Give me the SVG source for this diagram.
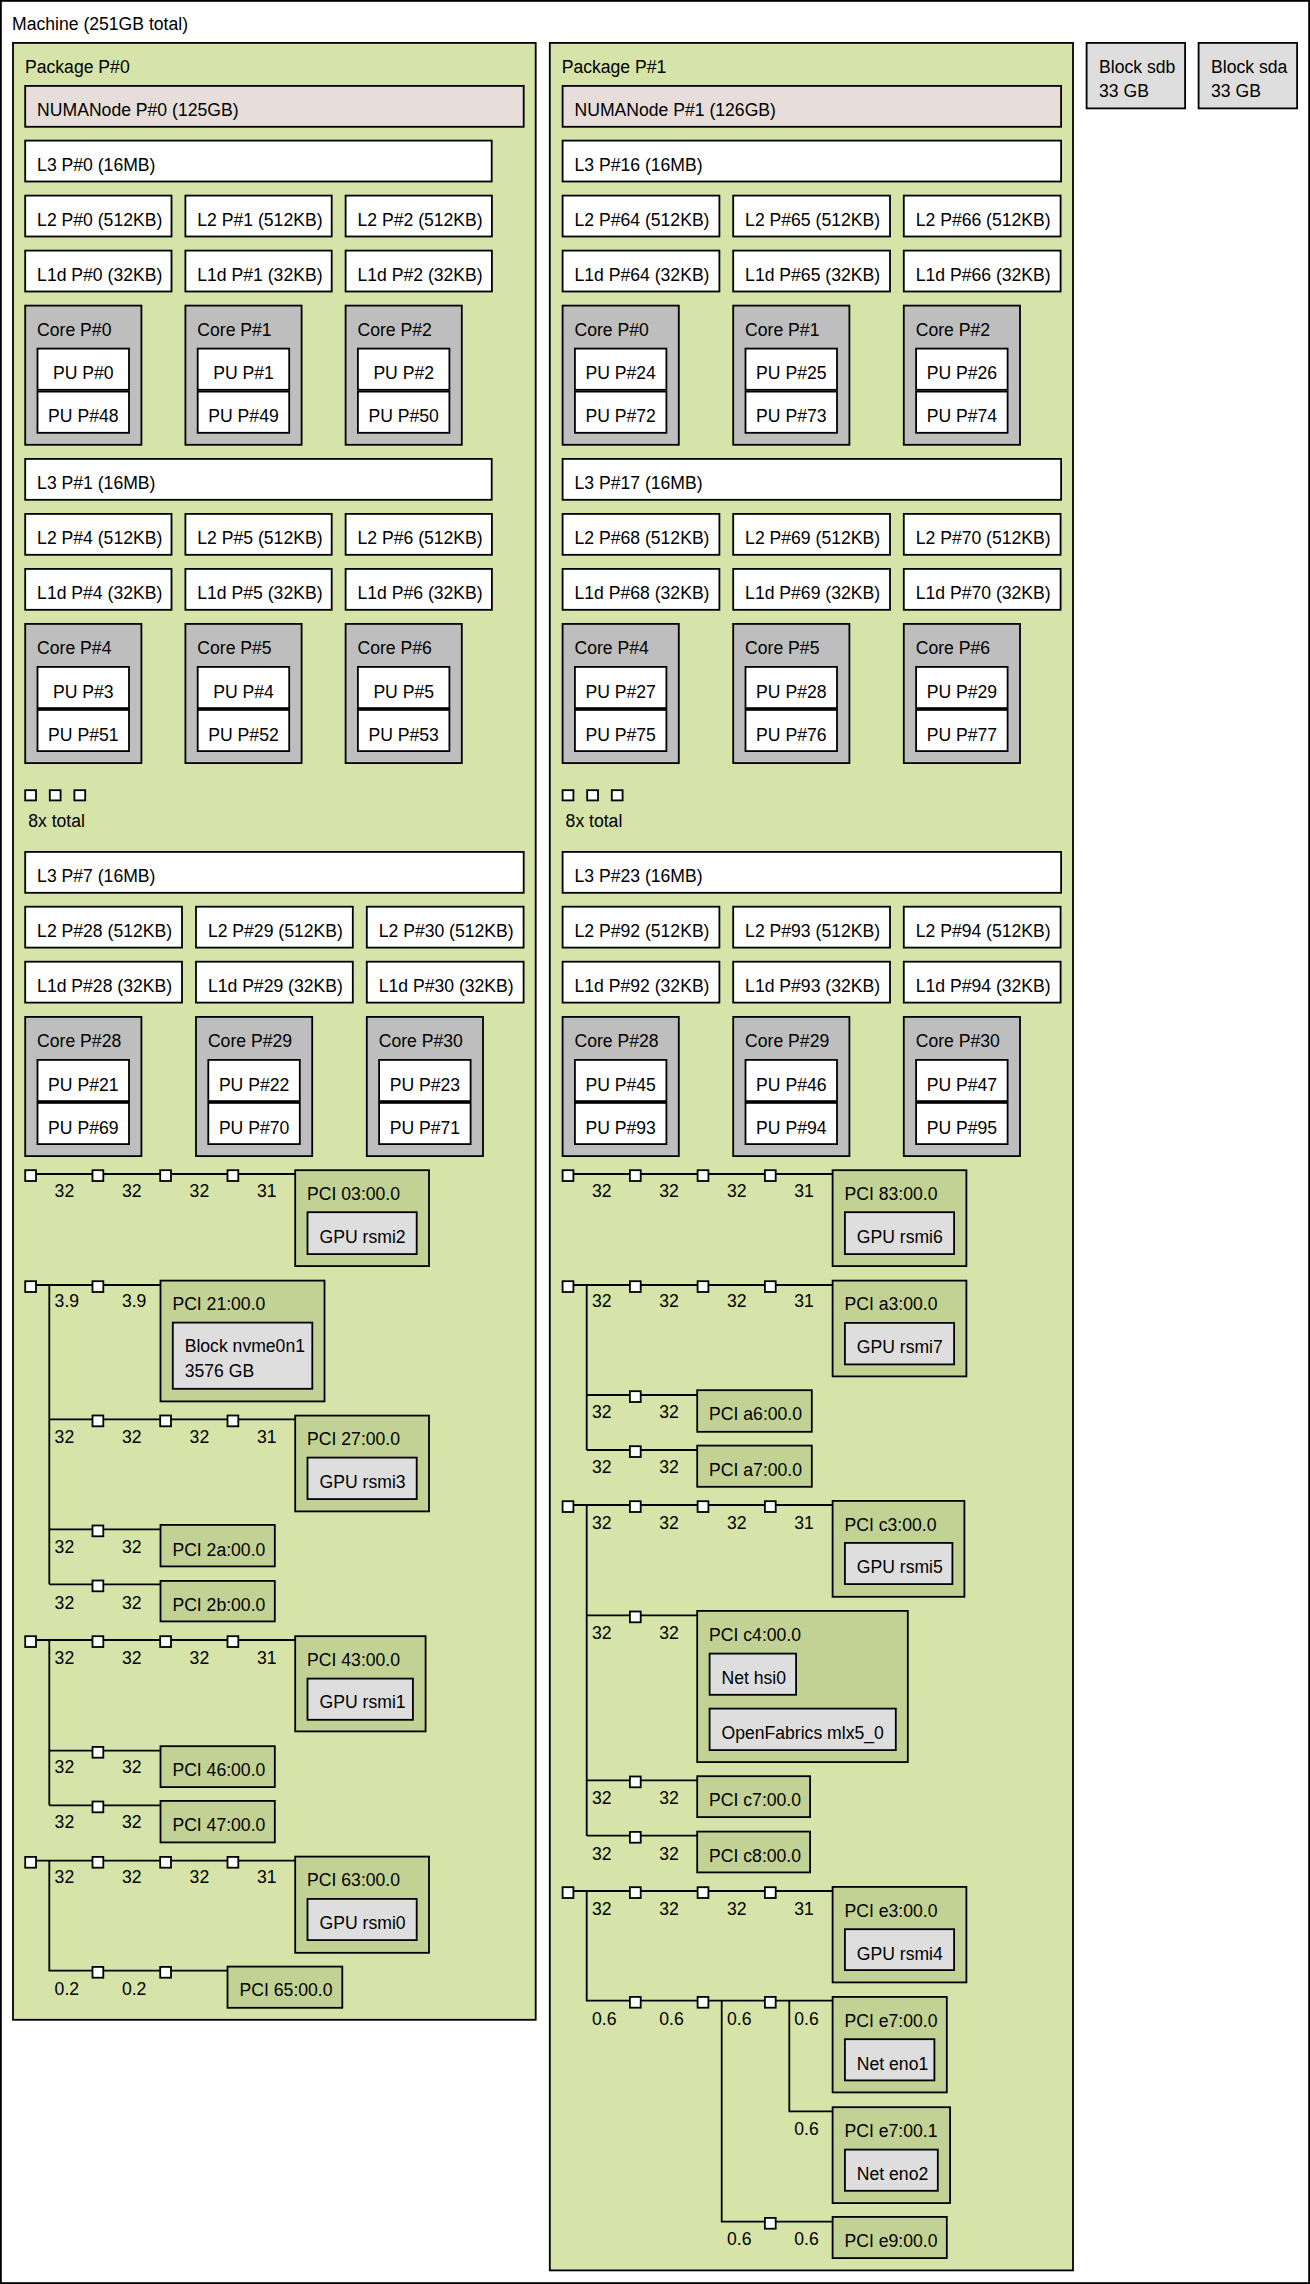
<svg xmlns="http://www.w3.org/2000/svg" xmlns:xlink="http://www.w3.org/1999/xlink" width="1310" height="2284" viewBox="0 0 1310 2284">
<style>
rect{stroke:#000;stroke-width:1.8}
.mach{fill:#fff}.pkg{fill:#D6E4A9}.numa{fill:#E7DEDC}.cache{fill:#fff}.core{fill:#BEBEBE}.pu{fill:#fff}
.pci{fill:#C2D295}.os{fill:#DEDEDE}.br{fill:#fff}
text{font-family:"Liberation Sans",Arial,Helvetica,sans-serif;font-size:17.6px;fill:#000}
.c{text-anchor:middle}
.lk{stroke:#000;stroke-width:1.8;fill:none}
</style>
<defs><rect id="sq" width="10.8" height="10.8" class="br"/></defs>

<g id="machine"><rect class="mach" x="0.9" y="0.9" width="1308.2" height="2282.2"/><text x="12" y="30">Machine (251GB total)</text></g>

<g id="package0"><rect class="pkg" x="13" y="42.9" width="522.7" height="1976.9"/><text x="25" y="73">Package P#0</text></g>
<g id="package1"><rect class="pkg" x="549.8" y="42.9" width="523.2" height="2227.5"/><text x="561.7" y="73">Package P#1</text></g>
<g id="block-sdb"><rect class="os" x="1086.6" y="42.9" width="98.5" height="65.5"/><text x="1099" y="72.7">Block sdb</text><text x="1099" y="97.3">33 GB</text></g>
<g id="block-sda"><rect class="os" x="1198.6" y="42.9" width="98.5" height="65.5"/><text x="1211" y="72.7">Block sda</text><text x="1211" y="97.3">33 GB</text></g>

<g id="numa0"><rect class="numa" x="25.2" y="85.9" width="498.5" height="40.9"/><text x="37.1" y="116">NUMANode P#0 (125GB)</text></g>
<g id="numa1"><rect class="numa" x="562.6" y="85.9" width="498.5" height="40.9"/><text x="574.5" y="116">NUMANode P#1 (126GB)</text></g>

<!-- Package 0 group A -->
<g id="l3-0"><rect class="cache" x="25.2" y="140.6" width="466.5" height="40.9"/><text x="37.1" y="170.9">L3 P#0 (16MB)</text></g>
<g id="l2-0"><rect class="cache" x="25.2" y="195.6" width="146.3" height="40.9"/><text x="37.1" y="225.9">L2 P#0 (512KB)</text></g>
<g id="l2-1"><rect class="cache" x="185.4" y="195.6" width="146.3" height="40.9"/><text x="197.3" y="225.9">L2 P#1 (512KB)</text></g>
<g id="l2-2"><rect class="cache" x="345.6" y="195.6" width="146.3" height="40.9"/><text x="357.5" y="225.9">L2 P#2 (512KB)</text></g>
<g id="l1-0"><rect class="cache" x="25.2" y="250.6" width="146.3" height="40.9"/><text x="37.1" y="280.9">L1d P#0 (32KB)</text></g>
<g id="l1-1"><rect class="cache" x="185.4" y="250.6" width="146.3" height="40.9"/><text x="197.3" y="280.9">L1d P#1 (32KB)</text></g>
<g id="l1-2"><rect class="cache" x="345.6" y="250.6" width="146.3" height="40.9"/><text x="357.5" y="280.9">L1d P#2 (32KB)</text></g>
<g id="core-p0-0"><rect class="core" x="25.2" y="305.6" width="116.2" height="139.2"/><text x="37.1" y="336">Core P#0</text>
<rect class="pu" x="37.5" y="348.6" width="91.5" height="41.2"/><text class="c" x="83.3" y="379.3">PU P#0</text>
<rect class="pu" x="37.5" y="391.6" width="91.5" height="41.2"/><text class="c" x="83.3" y="422.3">PU P#48</text></g>
<g id="core-p0-1"><rect class="core" x="185.4" y="305.6" width="116.2" height="139.2"/><text x="197.3" y="336">Core P#1</text>
<rect class="pu" x="197.7" y="348.6" width="91.5" height="41.2"/><text class="c" x="243.5" y="379.3">PU P#1</text>
<rect class="pu" x="197.7" y="391.6" width="91.5" height="41.2"/><text class="c" x="243.5" y="422.3">PU P#49</text></g>
<g id="core-p0-2"><rect class="core" x="345.6" y="305.6" width="116.2" height="139.2"/><text x="357.5" y="336">Core P#2</text>
<rect class="pu" x="357.9" y="348.6" width="91.5" height="41.2"/><text class="c" x="403.7" y="379.3">PU P#2</text>
<rect class="pu" x="357.9" y="391.6" width="91.5" height="41.2"/><text class="c" x="403.7" y="422.3">PU P#50</text></g>

<!-- Package 0 group B -->
<g id="l3-1"><rect class="cache" x="25.2" y="458.9" width="466.5" height="40.9"/><text x="37.1" y="489.2">L3 P#1 (16MB)</text></g>
<g id="l2-4"><rect class="cache" x="25.2" y="513.9" width="146.3" height="40.9"/><text x="37.1" y="544.2">L2 P#4 (512KB)</text></g>
<g id="l2-5"><rect class="cache" x="185.4" y="513.9" width="146.3" height="40.9"/><text x="197.3" y="544.2">L2 P#5 (512KB)</text></g>
<g id="l2-6"><rect class="cache" x="345.6" y="513.9" width="146.3" height="40.9"/><text x="357.5" y="544.2">L2 P#6 (512KB)</text></g>
<g id="l1-4"><rect class="cache" x="25.2" y="568.9" width="146.3" height="40.9"/><text x="37.1" y="599.2">L1d P#4 (32KB)</text></g>
<g id="l1-5"><rect class="cache" x="185.4" y="568.9" width="146.3" height="40.9"/><text x="197.3" y="599.2">L1d P#5 (32KB)</text></g>
<g id="l1-6"><rect class="cache" x="345.6" y="568.9" width="146.3" height="40.9"/><text x="357.5" y="599.2">L1d P#6 (32KB)</text></g>
<g id="core-p0-4"><rect class="core" x="25.2" y="623.9" width="116.2" height="139.2"/><text x="37.1" y="654.3">Core P#4</text>
<rect class="pu" x="37.5" y="666.9" width="91.5" height="41.2"/><text class="c" x="83.3" y="697.6">PU P#3</text>
<rect class="pu" x="37.5" y="709.9" width="91.5" height="41.2"/><text class="c" x="83.3" y="740.6">PU P#51</text></g>
<g id="core-p0-5"><rect class="core" x="185.4" y="623.9" width="116.2" height="139.2"/><text x="197.3" y="654.3">Core P#5</text>
<rect class="pu" x="197.7" y="666.9" width="91.5" height="41.2"/><text class="c" x="243.5" y="697.6">PU P#4</text>
<rect class="pu" x="197.7" y="709.9" width="91.5" height="41.2"/><text class="c" x="243.5" y="740.6">PU P#52</text></g>
<g id="core-p0-6"><rect class="core" x="345.6" y="623.9" width="116.2" height="139.2"/><text x="357.5" y="654.3">Core P#6</text>
<rect class="pu" x="357.9" y="666.9" width="91.5" height="41.2"/><text class="c" x="403.7" y="697.6">PU P#5</text>
<rect class="pu" x="357.9" y="709.9" width="91.5" height="41.2"/><text class="c" x="403.7" y="740.6">PU P#53</text></g>

<g id="ellipsis-p0"><rect class="br" x="25.2" y="790.2" width="10.8" height="10.2"/><rect class="br" x="49.8" y="790.2" width="10.8" height="10.2"/><rect class="br" x="74.4" y="790.2" width="10.8" height="10.2"/><text x="28.2" y="827.3">8x total</text></g>

<!-- Package 0 group C -->
<g id="l3-7"><rect class="cache" x="25.2" y="851.9" width="498.5" height="40.9"/><text x="37.1" y="882.2">L3 P#7 (16MB)</text></g>
<g id="l2-28"><rect class="cache" x="25.2" y="906.7" width="156.8" height="40.9"/><text x="37.1" y="937">L2 P#28 (512KB)</text></g>
<g id="l2-29"><rect class="cache" x="196" y="906.7" width="156.8" height="40.9"/><text x="207.9" y="937">L2 P#29 (512KB)</text></g>
<g id="l2-30"><rect class="cache" x="366.8" y="906.7" width="156.8" height="40.9"/><text x="378.7" y="937">L2 P#30 (512KB)</text></g>
<g id="l1-28"><rect class="cache" x="25.2" y="961.7" width="156.8" height="40.9"/><text x="37.1" y="992">L1d P#28 (32KB)</text></g>
<g id="l1-29"><rect class="cache" x="196" y="961.7" width="156.8" height="40.9"/><text x="207.9" y="992">L1d P#29 (32KB)</text></g>
<g id="l1-30"><rect class="cache" x="366.8" y="961.7" width="156.8" height="40.9"/><text x="378.7" y="992">L1d P#30 (32KB)</text></g>
<g id="core-p0-28"><rect class="core" x="25.2" y="1016.9" width="116.2" height="139.2"/><text x="37.1" y="1047.3">Core P#28</text>
<rect class="pu" x="37.5" y="1059.9" width="91.5" height="41.2"/><text class="c" x="83.3" y="1090.6">PU P#21</text>
<rect class="pu" x="37.5" y="1102.9" width="91.5" height="41.2"/><text class="c" x="83.3" y="1133.6">PU P#69</text></g>
<g id="core-p0-29"><rect class="core" x="196" y="1016.9" width="116.2" height="139.2"/><text x="207.9" y="1047.3">Core P#29</text>
<rect class="pu" x="208.3" y="1059.9" width="91.5" height="41.2"/><text class="c" x="254.1" y="1090.6">PU P#22</text>
<rect class="pu" x="208.3" y="1102.9" width="91.5" height="41.2"/><text class="c" x="254.1" y="1133.6">PU P#70</text></g>
<g id="core-p0-30"><rect class="core" x="366.8" y="1016.9" width="116.2" height="139.2"/><text x="378.7" y="1047.3">Core P#30</text>
<rect class="pu" x="379.1" y="1059.9" width="91.5" height="41.2"/><text class="c" x="424.9" y="1090.6">PU P#23</text>
<rect class="pu" x="379.1" y="1102.9" width="91.5" height="41.2"/><text class="c" x="424.9" y="1133.6">PU P#71</text></g>

<!-- Package 1 group A -->
<g id="l3-16"><rect class="cache" x="562.6" y="140.6" width="498.5" height="40.9"/><text x="574.5" y="170.9">L3 P#16 (16MB)</text></g>
<g id="l2-64"><rect class="cache" x="562.6" y="195.6" width="156.8" height="40.9"/><text x="574.5" y="225.9">L2 P#64 (512KB)</text></g>
<g id="l2-65"><rect class="cache" x="733.2" y="195.6" width="156.8" height="40.9"/><text x="745.1" y="225.9">L2 P#65 (512KB)</text></g>
<g id="l2-66"><rect class="cache" x="903.8" y="195.6" width="156.8" height="40.9"/><text x="915.7" y="225.9">L2 P#66 (512KB)</text></g>
<g id="l1-64"><rect class="cache" x="562.6" y="250.6" width="156.8" height="40.9"/><text x="574.5" y="280.9">L1d P#64 (32KB)</text></g>
<g id="l1-65"><rect class="cache" x="733.2" y="250.6" width="156.8" height="40.9"/><text x="745.1" y="280.9">L1d P#65 (32KB)</text></g>
<g id="l1-66"><rect class="cache" x="903.8" y="250.6" width="156.8" height="40.9"/><text x="915.7" y="280.9">L1d P#66 (32KB)</text></g>
<g id="core-p1-0"><rect class="core" x="562.6" y="305.6" width="116.2" height="139.2"/><text x="574.5" y="336">Core P#0</text>
<rect class="pu" x="574.9" y="348.6" width="91.5" height="41.2"/><text class="c" x="620.7" y="379.3">PU P#24</text>
<rect class="pu" x="574.9" y="391.6" width="91.5" height="41.2"/><text class="c" x="620.7" y="422.3">PU P#72</text></g>
<g id="core-p1-1"><rect class="core" x="733.2" y="305.6" width="116.2" height="139.2"/><text x="745.1" y="336">Core P#1</text>
<rect class="pu" x="745.5" y="348.6" width="91.5" height="41.2"/><text class="c" x="791.3" y="379.3">PU P#25</text>
<rect class="pu" x="745.5" y="391.6" width="91.5" height="41.2"/><text class="c" x="791.3" y="422.3">PU P#73</text></g>
<g id="core-p1-2"><rect class="core" x="903.8" y="305.6" width="116.2" height="139.2"/><text x="915.7" y="336">Core P#2</text>
<rect class="pu" x="916.1" y="348.6" width="91.5" height="41.2"/><text class="c" x="961.9" y="379.3">PU P#26</text>
<rect class="pu" x="916.1" y="391.6" width="91.5" height="41.2"/><text class="c" x="961.9" y="422.3">PU P#74</text></g>

<!-- Package 1 group B -->
<g id="l3-17"><rect class="cache" x="562.6" y="458.9" width="498.5" height="40.9"/><text x="574.5" y="489.2">L3 P#17 (16MB)</text></g>
<g id="l2-68"><rect class="cache" x="562.6" y="513.9" width="156.8" height="40.9"/><text x="574.5" y="544.2">L2 P#68 (512KB)</text></g>
<g id="l2-69"><rect class="cache" x="733.2" y="513.9" width="156.8" height="40.9"/><text x="745.1" y="544.2">L2 P#69 (512KB)</text></g>
<g id="l2-70"><rect class="cache" x="903.8" y="513.9" width="156.8" height="40.9"/><text x="915.7" y="544.2">L2 P#70 (512KB)</text></g>
<g id="l1-68"><rect class="cache" x="562.6" y="568.9" width="156.8" height="40.9"/><text x="574.5" y="599.2">L1d P#68 (32KB)</text></g>
<g id="l1-69"><rect class="cache" x="733.2" y="568.9" width="156.8" height="40.9"/><text x="745.1" y="599.2">L1d P#69 (32KB)</text></g>
<g id="l1-70"><rect class="cache" x="903.8" y="568.9" width="156.8" height="40.9"/><text x="915.7" y="599.2">L1d P#70 (32KB)</text></g>
<g id="core-p1-4"><rect class="core" x="562.6" y="623.9" width="116.2" height="139.2"/><text x="574.5" y="654.3">Core P#4</text>
<rect class="pu" x="574.9" y="666.9" width="91.5" height="41.2"/><text class="c" x="620.7" y="697.6">PU P#27</text>
<rect class="pu" x="574.9" y="709.9" width="91.5" height="41.2"/><text class="c" x="620.7" y="740.6">PU P#75</text></g>
<g id="core-p1-5"><rect class="core" x="733.2" y="623.9" width="116.2" height="139.2"/><text x="745.1" y="654.3">Core P#5</text>
<rect class="pu" x="745.5" y="666.9" width="91.5" height="41.2"/><text class="c" x="791.3" y="697.6">PU P#28</text>
<rect class="pu" x="745.5" y="709.9" width="91.5" height="41.2"/><text class="c" x="791.3" y="740.6">PU P#76</text></g>
<g id="core-p1-6"><rect class="core" x="903.8" y="623.9" width="116.2" height="139.2"/><text x="915.7" y="654.3">Core P#6</text>
<rect class="pu" x="916.1" y="666.9" width="91.5" height="41.2"/><text class="c" x="961.9" y="697.6">PU P#29</text>
<rect class="pu" x="916.1" y="709.9" width="91.5" height="41.2"/><text class="c" x="961.9" y="740.6">PU P#77</text></g>

<g id="ellipsis-p1"><rect class="br" x="562.6" y="790.2" width="10.8" height="10.2"/><rect class="br" x="587.2" y="790.2" width="10.8" height="10.2"/><rect class="br" x="611.8" y="790.2" width="10.8" height="10.2"/><text x="565.6" y="827.3">8x total</text></g>

<!-- Package 1 group C -->
<g id="l3-23"><rect class="cache" x="562.6" y="851.9" width="498.5" height="40.9"/><text x="574.5" y="882.2">L3 P#23 (16MB)</text></g>
<g id="l2-92"><rect class="cache" x="562.6" y="906.7" width="156.8" height="40.9"/><text x="574.5" y="937">L2 P#92 (512KB)</text></g>
<g id="l2-93"><rect class="cache" x="733.2" y="906.7" width="156.8" height="40.9"/><text x="745.1" y="937">L2 P#93 (512KB)</text></g>
<g id="l2-94"><rect class="cache" x="903.8" y="906.7" width="156.8" height="40.9"/><text x="915.7" y="937">L2 P#94 (512KB)</text></g>
<g id="l1-92"><rect class="cache" x="562.6" y="961.7" width="156.8" height="40.9"/><text x="574.5" y="992">L1d P#92 (32KB)</text></g>
<g id="l1-93"><rect class="cache" x="733.2" y="961.7" width="156.8" height="40.9"/><text x="745.1" y="992">L1d P#93 (32KB)</text></g>
<g id="l1-94"><rect class="cache" x="903.8" y="961.7" width="156.8" height="40.9"/><text x="915.7" y="992">L1d P#94 (32KB)</text></g>
<g id="core-p1-28"><rect class="core" x="562.6" y="1016.9" width="116.2" height="139.2"/><text x="574.5" y="1047.3">Core P#28</text>
<rect class="pu" x="574.9" y="1059.9" width="91.5" height="41.2"/><text class="c" x="620.7" y="1090.6">PU P#45</text>
<rect class="pu" x="574.9" y="1102.9" width="91.5" height="41.2"/><text class="c" x="620.7" y="1133.6">PU P#93</text></g>
<g id="core-p1-29"><rect class="core" x="733.2" y="1016.9" width="116.2" height="139.2"/><text x="745.1" y="1047.3">Core P#29</text>
<rect class="pu" x="745.5" y="1059.9" width="91.5" height="41.2"/><text class="c" x="791.3" y="1090.6">PU P#46</text>
<rect class="pu" x="745.5" y="1102.9" width="91.5" height="41.2"/><text class="c" x="791.3" y="1133.6">PU P#94</text></g>
<g id="core-p1-30"><rect class="core" x="903.8" y="1016.9" width="116.2" height="139.2"/><text x="915.7" y="1047.3">Core P#30</text>
<rect class="pu" x="916.1" y="1059.9" width="91.5" height="41.2"/><text class="c" x="961.9" y="1090.6">PU P#47</text>
<rect class="pu" x="916.1" y="1102.9" width="91.5" height="41.2"/><text class="c" x="961.9" y="1133.6">PU P#95</text></g>

<!-- connectors -->
<g id="connectors" class="lk">
<path class="lk" d="M31 1174H295.2"/>
<path class="lk" d="M31 1285H160.5M49.3 1285V1584.3M49.3 1419.3H295.2M49.3 1529.3H160.5M49.3 1584.3H160.5"/>
<path class="lk" d="M31 1640H295.2M49.3 1640V1805.3M49.3 1750.7H160.5M49.3 1805.3H160.5"/>
<path class="lk" d="M31 1860.7H295.2M49.3 1860.7V1970.7H227.5"/>
<path class="lk" d="M568 1174H832.6"/>
<path class="lk" d="M568 1285H832.6M586.7 1285V1450M586.7 1395H697.2M586.7 1450H697.2"/>
<path class="lk" d="M568 1505H832.6M586.7 1505V1835.7M586.7 1615.3H697.2M586.7 1780.3H697.2M586.7 1835.7H697.2"/>
<path class="lk" d="M568 1891H832.6M586.7 1891V2000.7H832.6M721.7 2000.7V2221.7H832.6M789.3 2000.7V2111.3H832.6"/>
</g>

<!-- link speed labels -->
<g id="link-labels">
<text x="54.6" y="1197.3">32</text><text x="121.9" y="1197.3">32</text><text x="189.6" y="1197.3">32</text><text x="256.9" y="1197.3">31</text>
<text x="54.6" y="1307.3">3.9</text><text x="121.9" y="1307.3">3.9</text>
<text x="54.6" y="1443.3">32</text><text x="121.9" y="1443.3">32</text><text x="189.6" y="1443.3">32</text><text x="256.9" y="1443.3">31</text>
<text x="54.6" y="1553.3">32</text><text x="121.9" y="1553.3">32</text>
<text x="54.6" y="1608.7">32</text><text x="121.9" y="1608.7">32</text>
<text x="54.6" y="1664">32</text><text x="121.9" y="1664">32</text><text x="189.6" y="1664">32</text><text x="256.9" y="1664">31</text>
<text x="54.6" y="1773.3">32</text><text x="121.9" y="1773.3">32</text>
<text x="54.6" y="1828.3">32</text><text x="121.9" y="1828.3">32</text>
<text x="54.6" y="1883.3">32</text><text x="121.9" y="1883.3">32</text><text x="189.6" y="1883.3">32</text><text x="256.9" y="1883.3">31</text>
<text x="54.6" y="1994.7">0.2</text><text x="121.9" y="1994.7">0.2</text>
<text x="592" y="1197.3">32</text><text x="659.3" y="1197.3">32</text><text x="727" y="1197.3">32</text><text x="794.3" y="1197.3">31</text>
<text x="592" y="1307.3">32</text><text x="659.3" y="1307.3">32</text><text x="727" y="1307.3">32</text><text x="794.3" y="1307.3">31</text>
<text x="592" y="1418.3">32</text><text x="659.3" y="1418.3">32</text>
<text x="592" y="1473.3">32</text><text x="659.3" y="1473.3">32</text>
<text x="592" y="1528.7">32</text><text x="659.3" y="1528.7">32</text><text x="727" y="1528.7">32</text><text x="794.3" y="1528.7">31</text>
<text x="592" y="1639.3">32</text><text x="659.3" y="1639.3">32</text>
<text x="592" y="1804">32</text><text x="659.3" y="1804">32</text>
<text x="592" y="1860">32</text><text x="659.3" y="1860">32</text>
<text x="592" y="1915.3">32</text><text x="659.3" y="1915.3">32</text><text x="727" y="1915.3">32</text><text x="794.3" y="1915.3">31</text>
<text x="592" y="2024.7">0.6</text><text x="659.3" y="2024.7">0.6</text><text x="727" y="2024.7">0.6</text><text x="794.3" y="2024.7">0.6</text>
<text x="794.3" y="2135">0.6</text>
<text x="727" y="2245">0.6</text><text x="794.3" y="2245">0.6</text>
</g>

<!-- bridges -->
<g id="bridges-p0">
<g id="br-p0-00"><use xlink:href="#sq" x="25.2" y="1170.2"/><use xlink:href="#sq" x="92.5" y="1170.2"/><use xlink:href="#sq" x="160.2" y="1170.2"/><use xlink:href="#sq" x="227.5" y="1170.2"/></g>
<g id="br-p0-20"><use xlink:href="#sq" x="25.2" y="1281.2"/><use xlink:href="#sq" x="92.5" y="1281.2"/></g>
<g id="br-p0-27"><use xlink:href="#sq" x="92.5" y="1415.5"/><use xlink:href="#sq" x="160.2" y="1415.5"/><use xlink:href="#sq" x="227.5" y="1415.5"/></g>
<g id="br-p0-2a"><use xlink:href="#sq" x="92.5" y="1525.5"/></g>
<g id="br-p0-2b"><use xlink:href="#sq" x="92.5" y="1580.5"/></g>
<g id="br-p0-40"><use xlink:href="#sq" x="25.2" y="1636.2"/><use xlink:href="#sq" x="92.5" y="1636.2"/><use xlink:href="#sq" x="160.2" y="1636.2"/><use xlink:href="#sq" x="227.5" y="1636.2"/></g>
<g id="br-p0-46"><use xlink:href="#sq" x="92.5" y="1746.9"/></g>
<g id="br-p0-47"><use xlink:href="#sq" x="92.5" y="1801.5"/></g>
<g id="br-p0-60"><use xlink:href="#sq" x="25.2" y="1856.9"/><use xlink:href="#sq" x="92.5" y="1856.9"/><use xlink:href="#sq" x="160.2" y="1856.9"/><use xlink:href="#sq" x="227.5" y="1856.9"/></g>
<g id="br-p0-65"><use xlink:href="#sq" x="92.5" y="1966.9"/><use xlink:href="#sq" x="160.2" y="1966.9"/></g>
</g>
<g id="bridges-p1">
<g id="br-p1-80"><use xlink:href="#sq" x="562.6" y="1170.2"/><use xlink:href="#sq" x="629.9" y="1170.2"/><use xlink:href="#sq" x="697.6" y="1170.2"/><use xlink:href="#sq" x="764.9" y="1170.2"/></g>
<g id="br-p1-a0"><use xlink:href="#sq" x="562.6" y="1281.2"/><use xlink:href="#sq" x="629.9" y="1281.2"/><use xlink:href="#sq" x="697.6" y="1281.2"/><use xlink:href="#sq" x="764.9" y="1281.2"/></g>
<g id="br-p1-a6"><use xlink:href="#sq" x="629.9" y="1391.2"/></g>
<g id="br-p1-a7"><use xlink:href="#sq" x="629.9" y="1446.2"/></g>
<g id="br-p1-c0"><use xlink:href="#sq" x="562.6" y="1501.2"/><use xlink:href="#sq" x="629.9" y="1501.2"/><use xlink:href="#sq" x="697.6" y="1501.2"/><use xlink:href="#sq" x="764.9" y="1501.2"/></g>
<g id="br-p1-c4"><use xlink:href="#sq" x="629.9" y="1611.5"/></g>
<g id="br-p1-c7"><use xlink:href="#sq" x="629.9" y="1776.5"/></g>
<g id="br-p1-c8"><use xlink:href="#sq" x="629.9" y="1831.9"/></g>
<g id="br-p1-e0"><use xlink:href="#sq" x="562.6" y="1887.2"/><use xlink:href="#sq" x="629.9" y="1887.2"/><use xlink:href="#sq" x="697.6" y="1887.2"/><use xlink:href="#sq" x="764.9" y="1887.2"/></g>
<g id="br-p1-e7"><use xlink:href="#sq" x="629.9" y="1996.9"/><use xlink:href="#sq" x="697.6" y="1996.9"/><use xlink:href="#sq" x="764.9" y="1996.9"/></g>
<g id="br-p1-e9"><use xlink:href="#sq" x="764.9" y="2217.9"/></g>
</g>

<!-- PCI devices package 0 -->
<g id="pci-03"><rect class="pci" x="295.2" y="1170.2" width="133.8" height="95.9"/><text x="307.1" y="1200">PCI 03:00.0</text>
<rect class="os" x="307.5" y="1212.2" width="109.2" height="41.9"/><text x="319.6" y="1242.7">GPU rsmi2</text></g>
<g id="pci-21"><rect class="pci" x="160.5" y="1280.6" width="164" height="120.8"/><text x="172.4" y="1310">PCI 21:00.0</text>
<rect class="os" x="172.8" y="1322.6" width="139.5" height="66.2"/><text x="184.7" y="1352.3">Block nvme0n1</text><text x="184.7" y="1377">3576 GB</text></g>
<g id="pci-27"><rect class="pci" x="295.2" y="1415.6" width="133.8" height="95.8"/><text x="307.1" y="1445.4">PCI 27:00.0</text>
<rect class="os" x="307.5" y="1457.6" width="109.2" height="41.5"/><text x="319.6" y="1488.1">GPU rsmi3</text></g>
<g id="pci-2a"><rect class="pci" x="160.5" y="1524.9" width="114.3" height="41.5"/><text x="172.4" y="1555.5">PCI 2a:00.0</text></g>
<g id="pci-2b"><rect class="pci" x="160.5" y="1580.9" width="114.3" height="40.5"/><text x="172.4" y="1611">PCI 2b:00.0</text></g>
<g id="pci-43"><rect class="pci" x="295.2" y="1636.2" width="130.4" height="95.2"/><text x="307.1" y="1666">PCI 43:00.0</text>
<rect class="os" x="307.5" y="1678.6" width="105.4" height="41.2"/><text x="319.6" y="1708.3">GPU rsmi1</text></g>
<g id="pci-46"><rect class="pci" x="160.5" y="1746.2" width="114.3" height="40.9"/><text x="172.4" y="1776">PCI 46:00.0</text></g>
<g id="pci-47"><rect class="pci" x="160.5" y="1800.9" width="114.3" height="41.5"/><text x="172.4" y="1831">PCI 47:00.0</text></g>
<g id="pci-63"><rect class="pci" x="295.2" y="1856.6" width="133.8" height="96.2"/><text x="307.1" y="1886.4">PCI 63:00.0</text>
<rect class="os" x="307.5" y="1898.9" width="109.2" height="41.2"/><text x="319.6" y="1929.4">GPU rsmi0</text></g>
<g id="pci-65"><rect class="pci" x="227.5" y="1966.6" width="114.8" height="41.2"/><text x="239.6" y="1996">PCI 65:00.0</text></g>

<!-- PCI devices package 1 -->
<g id="pci-83"><rect class="pci" x="832.6" y="1170.2" width="133.8" height="95.9"/><text x="844.5" y="1200">PCI 83:00.0</text>
<rect class="os" x="844.9" y="1212.2" width="109.2" height="41.9"/><text x="856.8" y="1242.7">GPU rsmi6</text></g>
<g id="pci-a3"><rect class="pci" x="832.6" y="1280.6" width="133.8" height="95.8"/><text x="844.5" y="1310.4">PCI a3:00.0</text>
<rect class="os" x="844.9" y="1322.9" width="109.2" height="41.5"/><text x="856.8" y="1353.4">GPU rsmi7</text></g>
<g id="pci-a6"><rect class="pci" x="697.2" y="1390.2" width="114.6" height="41.6"/><text x="709.1" y="1420">PCI a6:00.0</text></g>
<g id="pci-a7"><rect class="pci" x="697.2" y="1445.6" width="114.6" height="41.2"/><text x="709.1" y="1475.5">PCI a7:00.0</text></g>
<g id="pci-c3"><rect class="pci" x="832.6" y="1500.9" width="131.8" height="95.9"/><text x="844.5" y="1530.7">PCI c3:00.0</text>
<rect class="os" x="844.9" y="1542.9" width="107.5" height="41.2"/><text x="856.8" y="1573.4">GPU rsmi5</text></g>
<g id="pci-c4"><rect class="pci" x="697.2" y="1610.9" width="210.6" height="151.2"/><text x="709.1" y="1640.7">PCI c4:00.0</text>
<rect class="os" x="709.6" y="1653.6" width="86.5" height="41.2"/><text x="721.5" y="1684">Net hsi0</text>
<rect class="os" x="709.6" y="1708.6" width="186.2" height="41.5"/><text x="721.5" y="1739.3">OpenFabrics mlx5_0</text></g>
<g id="pci-c7"><rect class="pci" x="697.2" y="1776.2" width="112.9" height="40.9"/><text x="709.1" y="1806">PCI c7:00.0</text></g>
<g id="pci-c8"><rect class="pci" x="697.2" y="1831.6" width="112.9" height="40.8"/><text x="709.1" y="1861.5">PCI c8:00.0</text></g>
<g id="pci-e3"><rect class="pci" x="832.6" y="1886.9" width="133.8" height="95.5"/><text x="844.5" y="1916.7">PCI e3:00.0</text>
<rect class="os" x="844.9" y="1929.2" width="109.2" height="40.9"/><text x="856.8" y="1959.7">GPU rsmi4</text></g>
<g id="pci-e7-0"><rect class="pci" x="832.6" y="1996.9" width="114.2" height="95.5"/><text x="844.5" y="2026.7">PCI e7:00.0</text>
<rect class="os" x="844.9" y="2039.2" width="89.5" height="41.2"/><text x="856.8" y="2069.7">Net eno1</text></g>
<g id="pci-e7-1"><rect class="pci" x="832.6" y="2107.2" width="117.5" height="95.9"/><text x="844.5" y="2137">PCI e7:00.1</text>
<rect class="os" x="844.9" y="2149.6" width="92.9" height="41.2"/><text x="856.8" y="2180">Net eno2</text></g>
<g id="pci-e9"><rect class="pci" x="832.6" y="2216.9" width="114.2" height="41.2"/><text x="844.5" y="2247">PCI e9:00.0</text></g>
</svg>
